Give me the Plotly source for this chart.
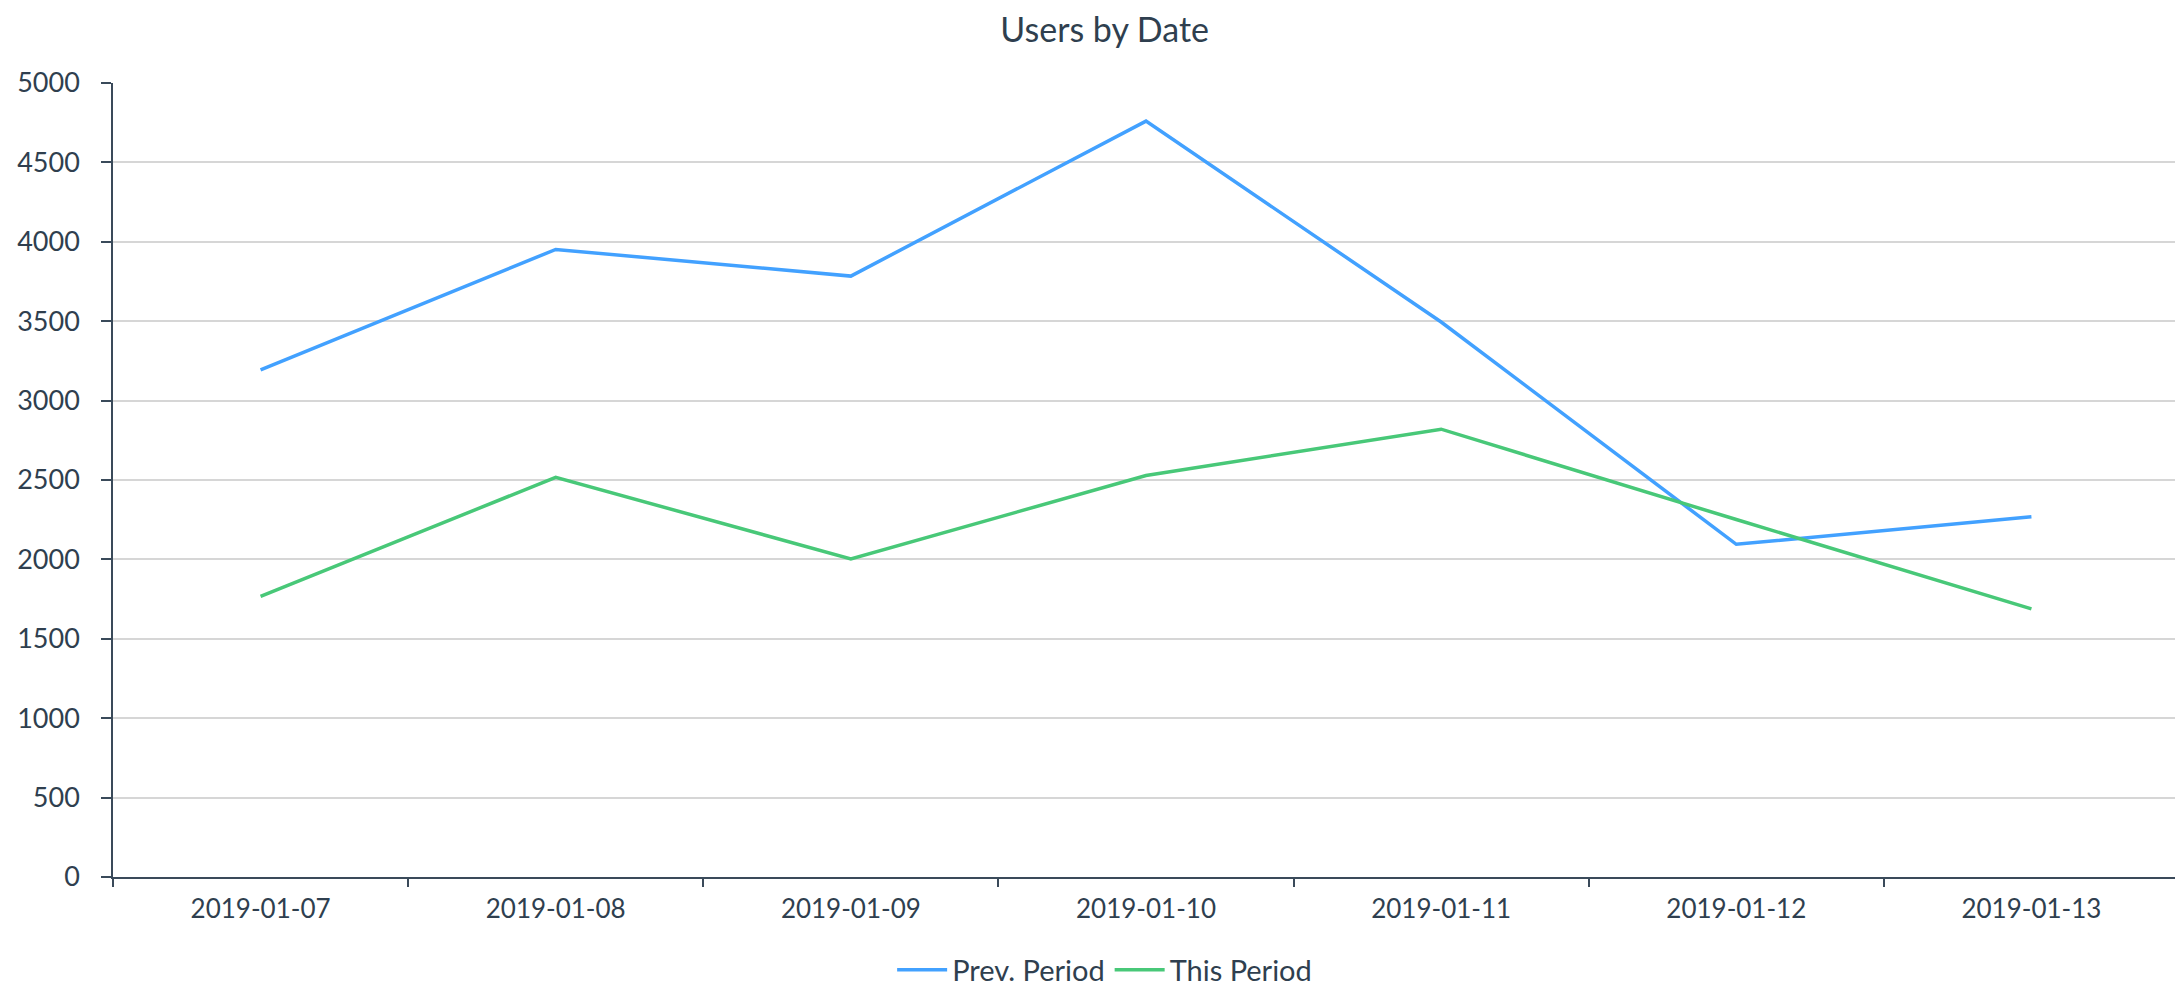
import plotly.graph_objects as go

dates = ["2019-01-07", "2019-01-08", "2019-01-09", "2019-01-10",
         "2019-01-11", "2019-01-12", "2019-01-13"]
prev_period = [3193, 3952, 3784, 4760, 3495, 2095, 2268]
this_period = [1767, 2517, 2003, 2528, 2820, 2251, 1688]
y_ticks = [0, 500, 1000, 1500, 2000, 2500, 3000, 3500, 4000, 4500, 5000]

FONT = "Lato"
TEXT = "#2f3f4f"
AXIS = "#3a4a5a"

fig = go.Figure()
fig.add_trace(go.Scatter(x=dates, y=prev_period, name="Prev. Period", mode="lines",
                         line=dict(color="#42a1ff", width=3.5)))
fig.add_trace(go.Scatter(x=dates, y=this_period, name="This Period", mode="lines",
                         line=dict(color="#48c878", width=3.5)))

fig.update_layout(
    width=2175, height=978,
    margin=dict(l=105, r=4, t=75, b=109, autoexpand=False),
    paper_bgcolor="white", plot_bgcolor="white",
    font=dict(family=FONT, color=TEXT),
    title=dict(text="Users by Date", x=0.5042, xanchor="center", xref="container",
               y=0.977, yanchor="middle", yref="container",
               font=dict(family=FONT, size=34, color=TEXT)),
    showlegend=True,
    legend=dict(orientation="h", xref="container", x=0.5042, xanchor="center",
                y=-0.117, yanchor="middle",
                font=dict(family=FONT, size=29, color=TEXT), itemwidth=50,
                bgcolor="rgba(0,0,0,0)"),
    xaxis=dict(type="category", range=[-0.5, 6.5], tickson="boundaries",
               ticks="outside", ticklen=8, tickcolor=AXIS, tickwidth=1.5,
               showline=True, linecolor=AXIS, linewidth=1.5, showgrid=False,
               automargin=False,
               tickfont=dict(family=FONT, size=26, color=TEXT), ticklabelstandoff=8),
    yaxis=dict(range=[0, 5000], tickvals=y_ticks, ticks="outside", ticklen=10,
               tickcolor=AXIS, tickwidth=1.5, showline=True, linecolor=AXIS,
               linewidth=1.5, showgrid=True, gridcolor="#d6d6d6", gridwidth=1.5,
               zeroline=False, automargin=False, ticklabelstandoff=16,
               tickfont=dict(family=FONT, size=27, color=TEXT)),
)

fig.write_html("out.html")
